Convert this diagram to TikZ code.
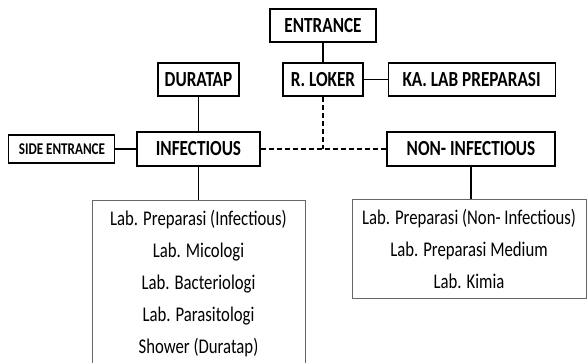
\documentclass[tikz,border=0pt]{standalone}
\usepackage{fontspec}
\setmainfont{Carlito}[FakeStretch=0.8]
\usetikzlibrary{positioning}
\tikzset{
  roomnode/.style = {shape=rectangle, draw, line width=1.1pt,
                     inner sep=0pt, minimum height=33pt,
                     font=\fontsize{21.5}{24}\selectfont\bfseries},
  mainroom/.style = {roomnode, minimum height=34pt},
  sideroom/.style = {roomnode, minimum height=28pt,
                     font=\fontsize{16.4}{19}\selectfont\bfseries},
  labbox/.style   = {shape=rectangle, draw=black!60, line width=0.9pt,
                     align=center, inner sep=0pt,
                     font=\fontsize{20.9}{32}\selectfont},
  link/.style     = {line width=1.6pt},
  corridor/.style = {link, dash pattern=on 5pt off 3pt},
}
\begin{document}
\begin{tikzpicture}[
        x = 1pt,
        y = -1pt
    ]
    \useasboundingbox (0,0) rectangle (587,363);
    \node [roomnode, minimum width=106pt] (entr)  at (323,25.5) {ENTRANCE};
    \node [roomnode, minimum width=80pt]  (loker) at (323,79.5) {R. LOKER};
    \node [roomnode, minimum width=167pt, right=24pt of loker] (kalab) {KA. LAB PREPARASI};
    \node [roomnode, minimum width=81pt]  (dura)  at (198.5,79.5) {DURATAP};
    \node [mainroom, minimum width=123pt] (infect) at (198.5,149) {INFECTIOUS};
    \node [sideroom, minimum width=106pt, left=21pt of infect] (side) {SIDE ENTRANCE};
    \node [mainroom, minimum width=168pt] (noninf) at (471,149) {NON- INFECTIOUS};
    \node [labbox, minimum width=213pt, minimum height=168pt] (inflabs) at (198.5,284)
        {Lab. Preparasi (Infectious)\\Lab. Micologi\\Lab. Bacteriologi\\Lab. Parasitologi\\Shower (Duratap)};
    \node [labbox, minimum width=234pt, minimum height=99pt] (noninflabs) at (469,248.5)
        {Lab. Preparasi (Non- Infectious)\\Lab. Preparasi Medium\\Lab. Kimia};
    \draw [link] (entr) -- (loker);
    \draw [link] (loker) -- (kalab);
    \draw [link] (dura) -- (infect);
    \draw [link] (side) -- (infect);
    \draw [link] (infect) -- (infect |- inflabs.north);
    \draw [link] (noninf) -- (noninf |- noninflabs.north);
    \draw [corridor] (infect) -- (noninf);
    \draw [corridor] (loker) -- (loker |- infect.east);
\end{tikzpicture}
\end{document}
